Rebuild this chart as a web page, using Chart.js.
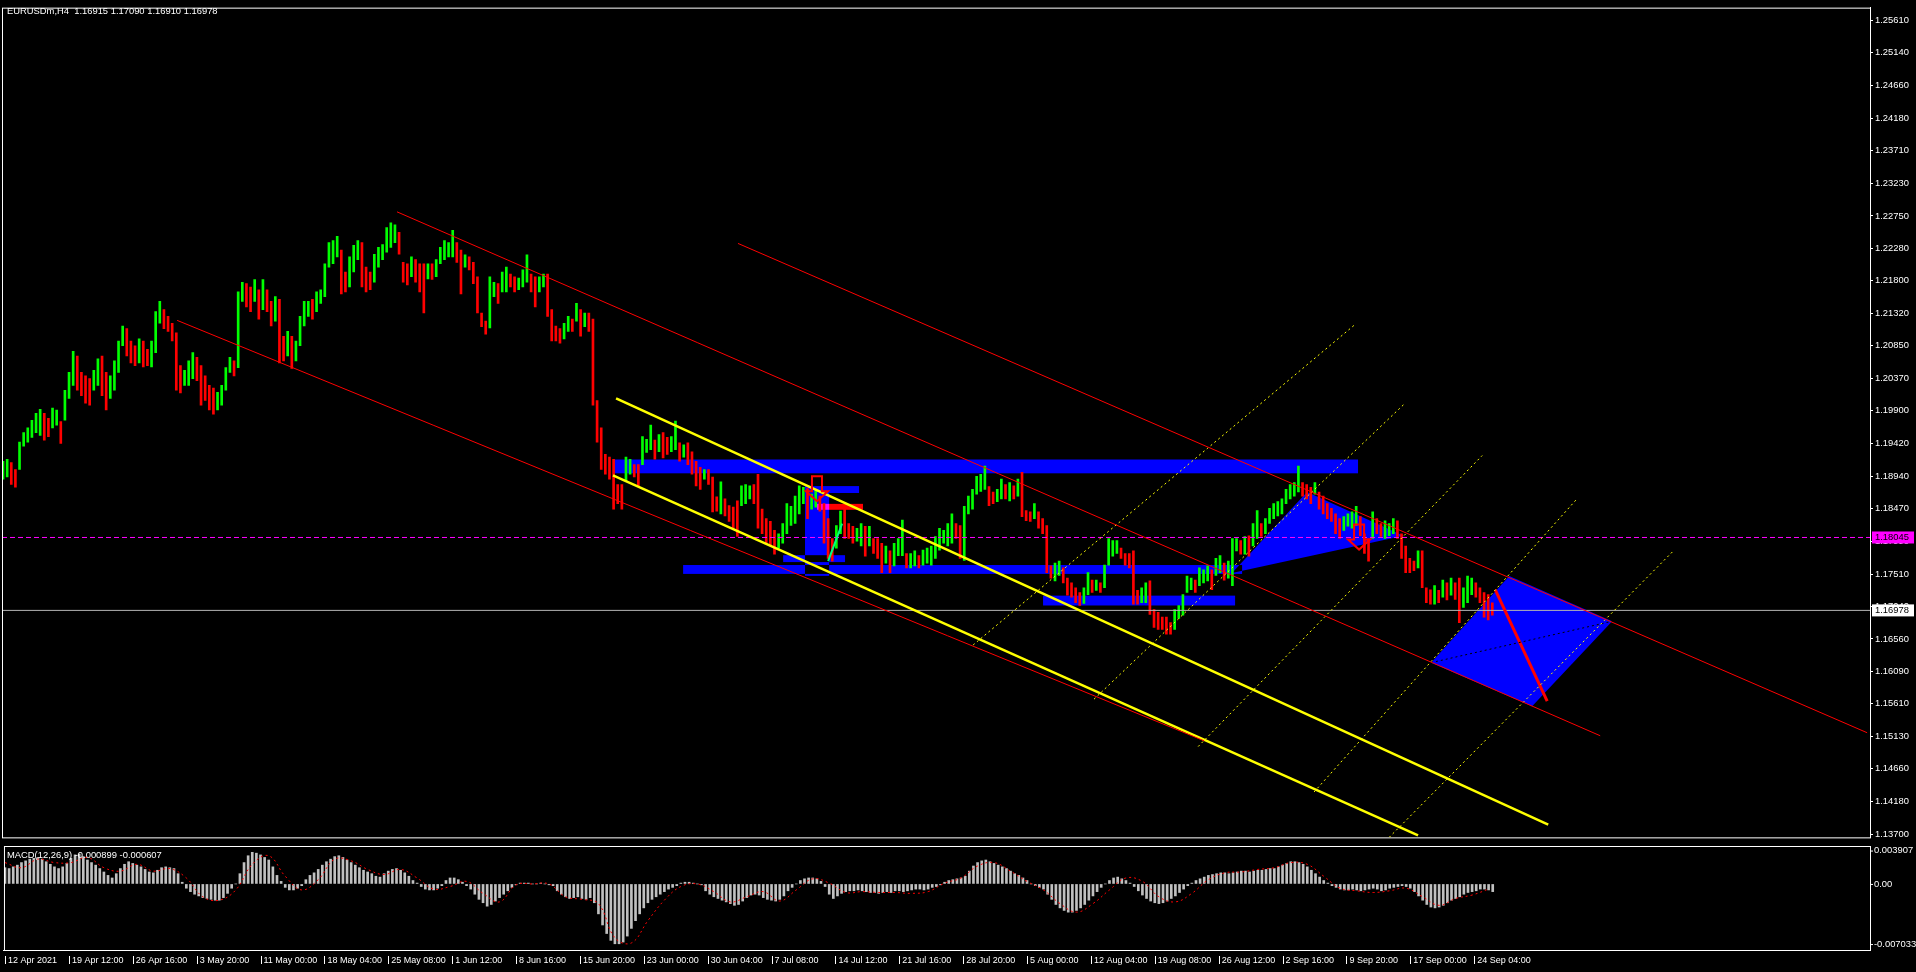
<!DOCTYPE html>
<html>
<head>
<meta charset="utf-8">
<title>EURUSDm,H4</title>
<script src="https://cdn.jsdelivr.net/npm/chart.js@4.4.0/dist/chart.umd.min.js"></script>
<style>
  html, body { margin: 0; padding: 0; background: #000; overflow: hidden; }
  #wrap { position: relative; width: 1916px; height: 972px; }
  canvas { position: absolute; left: 0; }
  #main { top: 0; }
  #macd { top: 845px; }
</style>
</head>
<body>
<div id="wrap">
  <canvas id="main" width="1916" height="845"></canvas>
  <canvas id="macd" width="1916" height="127"></canvas>
</div>
<script>
// textos del grafico
const symbolTitle = 'EURUSDm,H4  1.16915 1.17090 1.16910 1.16978';
const macdTitle = 'MACD(12,26,9) -0.000899 -0.000607';

// una muestra cada 2 velas H4, etiqueta de tiempo cada 31 velas
const barStep = 2;
const labelStep = 31;
const signalStep = 8;

const timeLabels = ['12 Apr 2021', '19 Apr 12:00', '26 Apr 16:00', '3 May 20:00', '11 May 00:00', '18 May 04:00',
  '25 May 08:00', '1 Jun 12:00', '8 Jun 16:00', '15 Jun 20:00', '23 Jun 00:00', '30 Jun 04:00', '7 Jul 08:00',
  '14 Jul 12:00', '21 Jul 16:00', '28 Jul 20:00', '5 Aug 00:00', '12 Aug 04:00', '19 Aug 08:00', '26 Aug 12:00',
  '2 Sep 16:00', '9 Sep 20:00', '17 Sep 00:00', '24 Sep 04:00'];

const priceTicks = [1.25610, 1.25140, 1.24660, 1.24180, 1.23710, 1.23230, 1.22750, 1.22280, 1.21800, 1.21320,
  1.20850, 1.20370, 1.19900, 1.19420, 1.18940, 1.18470, 1.17990, 1.17510, 1.17040, 1.16560, 1.16090, 1.15610,
  1.15130, 1.14660, 1.14180, 1.13700];
const macdTicks = [0.003907, 0, -0.007033];

const bidPrice = 1.16978;
const alertPrice = 1.18045;

// velas: maximos y minimos
const highs = [
  1.1916,1.1919,1.1914,1.1904,1.1944,1.1958,1.1965,1.1976,1.1986,1.1992,
  1.1986,1.1979,1.1994,1.1991,1.1974,1.2020,1.2046,1.2077,1.2070,1.2046,
  1.2041,1.2037,1.2049,1.2066,1.2070,1.2046,1.2041,1.2063,1.2092,1.2114,
  1.2110,1.2092,1.2085,1.2095,1.2092,1.2080,1.2092,1.2135,1.2150,1.2138,
  1.2128,1.2118,1.2104,1.2056,1.2049,1.2063,1.2075,1.2068,1.2056,1.2041,
  1.2027,1.2023,1.2017,1.2027,1.2053,1.2068,1.2063,1.2164,1.2178,1.2176,
  1.2171,1.2182,1.2167,1.2182,1.2167,1.2150,1.2157,1.2153,1.2099,1.2106,
  1.2099,1.2092,1.2128,1.2150,1.2150,1.2153,1.2164,1.2167,1.2205,1.2236,
  1.2239,1.2245,1.2225,1.2193,1.2215,1.2232,1.2239,1.2236,1.2200,1.2193,
  1.2219,1.2229,1.2233,1.2258,1.2265,1.2262,1.2251,1.2207,1.2205,1.2215,
  1.2211,1.2205,1.2205,1.2205,1.2205,1.2211,1.2229,1.2239,1.2236,1.2254,
  1.2236,1.2225,1.2218,1.2215,1.2207,1.2186,1.2133,1.2121,1.2186,1.2178,
  1.2176,1.2193,1.2200,1.2190,1.2186,1.2184,1.2196,1.2218,1.2190,1.2186,
  1.2186,1.2190,1.2190,1.2138,1.2114,1.2110,1.2118,1.2128,1.2124,1.2147,
  1.2138,1.2133,1.2133,1.2124,1.2005,1.1965,1.1926,1.1922,1.1919,1.1882,
  1.1882,1.1922,1.1919,1.1911,1.1911,1.1952,1.1948,1.1969,1.1947,1.1955,
  1.1958,1.1951,1.1952,1.1975,1.1943,1.1940,1.1943,1.1930,1.1916,1.1907,
  1.1904,1.1904,1.1893,1.1864,1.1886,1.1861,1.1851,1.1849,1.1858,1.1880,
  1.1882,1.1880,1.1882,1.1897,1.1846,1.1832,1.1828,1.1815,1.1810,1.1825,
  1.1854,1.1850,1.1865,1.1880,1.1878,1.1876,1.1868,1.1873,1.1865,1.1854,
  1.1832,1.1803,1.1822,1.1843,1.1846,1.1825,1.1821,1.1818,1.1825,1.1821,
  1.1821,1.1803,1.1803,1.1796,1.1792,1.1785,1.1796,1.1803,1.1830,1.1781,
  1.1781,1.1785,1.1778,1.1786,1.1789,1.1792,1.1806,1.1818,1.1815,1.1825,
  1.1839,1.1825,1.1822,1.1850,1.1865,1.1875,1.1894,1.1897,1.1909,1.1879,
  1.1871,1.1875,1.1890,1.1882,1.1885,1.1880,1.1890,1.1900,1.1844,1.1842,
  1.1854,1.1842,1.1832,1.1822,1.1763,1.1767,1.1770,1.1760,1.1745,1.1738,
  1.1731,1.1724,1.1731,1.1753,1.1742,1.1742,1.1738,1.1764,1.1803,1.1800,
  1.1800,1.1789,1.1781,1.1781,1.1785,1.1727,1.1731,1.1738,1.1741,1.1699,
  1.1695,1.1688,1.1688,1.1680,1.1699,1.1705,1.1721,1.1748,1.1745,1.1742,
  1.1760,1.1757,1.1763,1.1757,1.1774,1.1778,1.1767,1.1770,1.1803,1.1803,
  1.1800,1.1806,1.1807,1.1825,1.1844,1.1825,1.1832,1.1847,1.1854,1.1857,
  1.1861,1.1875,1.1882,1.1885,1.1909,1.1885,1.1882,1.1878,1.1885,1.1871,
  1.1865,1.1854,1.1847,1.1839,1.1832,1.1835,1.1839,1.1842,1.1850,1.1835,
  1.1810,1.1803,1.1842,1.1832,1.1825,1.1829,1.1825,1.1832,1.1829,1.1810,
  1.1792,1.1774,1.1770,1.1785,1.1785,1.1731,1.1728,1.1734,1.1727,1.1742,
  1.1738,1.1745,1.1738,1.1745,1.1731,1.1748,1.1745,1.1738,1.1731,1.1724,
  1.1721,1.1709];
const lows = [
  1.1890,1.1893,1.1882,1.1878,1.1904,1.1938,1.1944,1.1951,1.1958,1.1954,
  1.1947,1.1952,1.1965,1.1969,1.1942,1.1976,1.2008,1.2027,1.2020,1.2012,
  1.2001,1.1998,1.2020,1.2027,1.2012,1.1991,1.2008,1.2020,1.2046,1.2085,
  1.2070,1.2060,1.2056,1.2060,1.2054,1.2056,1.2054,1.2075,1.2118,1.2110,
  1.2106,1.2092,1.2020,1.2016,1.2027,1.2027,1.2037,1.2034,1.1998,1.2005,
  1.1991,1.1985,1.1991,1.1998,1.2020,1.2046,1.2041,1.2053,1.2150,1.2142,
  1.2135,1.2150,1.2124,1.2138,1.2135,1.2114,1.2121,1.2060,1.2063,1.2070,
  1.2052,1.2063,1.2085,1.2114,1.2128,1.2124,1.2135,1.2147,1.2157,1.2200,
  1.2205,1.2215,1.2161,1.2164,1.2171,1.2193,1.2211,1.2171,1.2164,1.2167,
  1.2178,1.2200,1.2211,1.2222,1.2229,1.2236,1.2219,1.2178,1.2174,1.2186,
  1.2178,1.2164,1.2133,1.2183,1.2182,1.2186,1.2205,1.2211,1.2215,1.2215,
  1.2207,1.2161,1.2200,1.2196,1.2176,1.2133,1.2113,1.2102,1.2111,1.2157,
  1.2147,1.2164,1.2164,1.2171,1.2164,1.2167,1.2171,1.2178,1.2164,1.2142,
  1.2164,1.2171,1.2128,1.2092,1.2092,1.2089,1.2095,1.2106,1.2106,1.2121,
  1.2099,1.2113,1.2106,1.1998,1.1944,1.1904,1.1897,1.1890,1.1846,1.1854,
  1.1846,1.1887,1.1897,1.1893,1.1879,1.1911,1.1929,1.1933,1.1919,1.1930,
  1.1921,1.1926,1.1930,1.1933,1.1916,1.1922,1.1911,1.1897,1.1880,1.1875,
  1.1890,1.1882,1.1842,1.1843,1.1839,1.1836,1.1828,1.1818,1.1806,1.1851,
  1.1854,1.1861,1.1854,1.1818,1.1810,1.1796,1.1792,1.1780,1.1789,1.1796,
  1.1810,1.1822,1.1825,1.1839,1.1854,1.1832,1.1846,1.1849,1.1843,1.1796,
  1.1774,1.1770,1.1789,1.1810,1.1803,1.1803,1.1796,1.1799,1.1792,1.1777,
  1.1792,1.1781,1.1774,1.1753,1.1767,1.1753,1.1763,1.1778,1.1778,1.1760,
  1.1760,1.1763,1.1760,1.1764,1.1767,1.1764,1.1774,1.1786,1.1796,1.1792,
  1.1796,1.1803,1.1774,1.1771,1.1839,1.1846,1.1868,1.1872,1.1875,1.1851,
  1.1854,1.1857,1.1861,1.1861,1.1858,1.1861,1.1865,1.1835,1.1829,1.1828,
  1.1832,1.1818,1.1810,1.1753,1.1745,1.1741,1.1749,1.1738,1.1720,1.1717,
  1.1709,1.1705,1.1708,1.1721,1.1724,1.1727,1.1724,1.1731,1.1764,1.1777,
  1.1781,1.1774,1.1764,1.1760,1.1707,1.1707,1.1709,1.1709,1.1692,1.1673,
  1.1670,1.1670,1.1663,1.1663,1.1670,1.1686,1.1691,1.1724,1.1728,1.1724,
  1.1734,1.1738,1.1741,1.1728,1.1749,1.1753,1.1742,1.1745,1.1734,1.1785,
  1.1780,1.1780,1.1777,1.1792,1.1803,1.1806,1.1810,1.1825,1.1832,1.1836,
  1.1839,1.1854,1.1861,1.1865,1.1871,1.1865,1.1861,1.1854,1.1868,1.1846,
  1.1839,1.1832,1.1828,1.1810,1.1803,1.1815,1.1821,1.1818,1.1822,1.1807,
  1.1781,1.1770,1.1803,1.1810,1.1806,1.1803,1.1807,1.1810,1.1803,1.1774,
  1.1753,1.1753,1.1756,1.1760,1.1731,1.1709,1.1707,1.1707,1.1709,1.1717,
  1.1713,1.1720,1.1714,1.1680,1.1702,1.1709,1.1721,1.1717,1.1709,1.1688,
  1.1684,1.1691];

// MACD: histograma (linea principal) y senal
const macdMain = [
  0.0019,0.0018,0.0020,0.0022,0.0025,0.0027,0.0029,0.0030,0.0031,0.0029,
  0.0026,0.0023,0.0020,0.0018,0.0020,0.0024,0.0030,0.0034,0.0035,0.0032,
  0.0028,0.0025,0.0022,0.0018,0.0014,0.0010,0.0007,0.0012,0.0018,0.0023,
  0.0026,0.0024,0.0022,0.0020,0.0017,0.0014,0.0013,0.0016,0.0019,0.0020,
  0.0019,0.0018,0.0012,0.0002,-0.0005,-0.0009,-0.0012,-0.0014,-0.0016,-0.0017,
  -0.0018,-0.0019,-0.0019,-0.0016,-0.0011,-0.0005,0.0000,0.0012,0.0025,0.0033,
  0.0037,0.0036,0.0034,0.0031,0.0028,0.0020,0.0010,0.0003,-0.0004,-0.0007,
  -0.0007,-0.0005,-0.0002,0.0005,0.0010,0.0013,0.0017,0.0022,0.0026,0.0029,
  0.0032,0.0033,0.0031,0.0028,0.0025,0.0022,0.0019,0.0016,0.0014,0.0012,
  0.0009,0.0008,0.0012,0.0015,0.0017,0.0018,0.0016,0.0013,0.0009,0.0004,
  0.0001,-0.0003,-0.0006,-0.0007,-0.0007,-0.0005,-0.0002,0.0004,0.0007,0.0007,
  0.0005,0.0002,-0.0002,-0.0006,-0.0012,-0.0018,-0.0022,-0.0026,-0.0024,-0.0020,
  -0.0016,-0.0012,-0.0008,-0.0004,-0.0001,0.0001,0.0001,0.0001,0.0000,0.0000,
  0.0001,0.0000,-0.0001,-0.0002,-0.0008,-0.0012,-0.0015,-0.0017,-0.0016,-0.0015,
  -0.0017,-0.0018,-0.0016,-0.0022,-0.0035,-0.0048,-0.0058,-0.0066,-0.0070,-0.0070,
  -0.0068,-0.0061,-0.0052,-0.0043,-0.0035,-0.0028,-0.0022,-0.0018,-0.0015,-0.0012,
  -0.0009,-0.0006,-0.0004,-0.0002,0.0001,0.0002,0.0002,0.0001,0.0000,-0.0001,
  -0.0008,-0.0012,-0.0015,-0.0017,-0.0019,-0.0021,-0.0023,-0.0025,-0.0024,-0.0020,
  -0.0016,-0.0013,-0.0012,-0.0013,-0.0016,-0.0018,-0.0019,-0.0020,-0.0018,-0.0014,
  -0.0008,-0.0004,0.0000,0.0004,0.0006,0.0007,0.0007,0.0006,0.0003,-0.0003,
  -0.0012,-0.0017,-0.0014,-0.0011,-0.0009,-0.0008,-0.0008,-0.0007,-0.0008,-0.0009,
  -0.0010,-0.0010,-0.0011,-0.0010,-0.0009,-0.0010,-0.0008,-0.0008,-0.0009,-0.0008,
  -0.0007,-0.0006,-0.0006,-0.0007,-0.0006,-0.0004,-0.0003,-0.0001,0.0002,0.0004,
  0.0005,0.0006,0.0007,0.0009,0.0015,0.0021,0.0025,0.0027,0.0028,0.0026,
  0.0024,0.0022,0.0020,0.0018,0.0015,0.0012,0.0010,0.0007,0.0004,0.0000,
  -0.0002,-0.0004,-0.0006,-0.0012,-0.0018,-0.0024,-0.0028,-0.0031,-0.0033,-0.0033,
  -0.0031,-0.0028,-0.0024,-0.0019,-0.0014,-0.0009,-0.0004,0.0000,0.0004,0.0007,
  0.0008,0.0006,0.0004,0.0001,-0.0003,-0.0008,-0.0013,-0.0017,-0.0020,-0.0022,
  -0.0023,-0.0022,-0.0020,-0.0017,-0.0014,-0.0010,-0.0006,-0.0002,0.0001,0.0004,
  0.0006,0.0008,0.0010,0.0011,0.0012,0.0013,0.0013,0.0012,0.0013,0.0014,
  0.0015,0.0015,0.0014,0.0015,0.0016,0.0016,0.0017,0.0018,0.0018,0.0020,
  0.0022,0.0024,0.0026,0.0026,0.0025,0.0023,0.0020,0.0016,0.0012,0.0008,
  0.0004,0.0001,-0.0002,-0.0004,-0.0006,-0.0007,-0.0007,-0.0006,-0.0007,-0.0008,
  -0.0007,-0.0006,-0.0005,-0.0006,-0.0008,-0.0007,-0.0005,-0.0004,-0.0003,-0.0002,
  -0.0003,-0.0005,-0.0009,-0.0014,-0.0019,-0.0024,-0.0027,-0.0028,-0.0027,-0.0025,
  -0.0022,-0.0019,-0.0017,-0.0015,-0.0012,-0.0010,-0.0009,-0.0008,-0.0006,-0.0006,
  -0.0007,-0.0009];
const macdSignal = [
  0.0025,0.0019,0.0029,0.0025,0.0025,0.0031,0.0019,0.0015,0.0023,0.0015,
  0.0018,0.0007,-0.0015,-0.0019,-0.0007,0.0023,0.0033,0.0009,-0.0007,0.0005,
  0.0029,0.0027,0.0017,0.0011,0.0017,0.0007,-0.0006,-0.0003,0.0003,-0.0011,
  -0.0021,-0.0001,0.0000,0.0000,-0.0015,-0.0018,-0.0023,-0.0063,-0.0069,-0.0043,
  -0.0019,-0.0003,0.0000,-0.0009,-0.0021,-0.0015,-0.0009,-0.0020,-0.0007,0.0006,
  0.0001,-0.0010,-0.0009,-0.0010,-0.0010,-0.0011,-0.0009,0.0001,0.0007,0.0021,
  0.0025,0.0015,0.0003,-0.0007,-0.0023,-0.0033,-0.0023,-0.0007,0.0007,0.0003,
  -0.0015,-0.0021,-0.0011,0.0005,0.0013,0.0014,0.0017,0.0019,0.0025,0.0023,
  0.0009,-0.0005,-0.0008,-0.0010,-0.0008,-0.0005,-0.0015,-0.0025,-0.0017,-0.0013,
  -0.0006];

// objetos dibujados: puntos [vela, precio]
const redLines = [
  [[84.4, 1.21222], [582.3, 1.15070]],
  [[191.0, 1.22810], [774.3, 1.15144]],
  [[356.3, 1.22348], [903.7, 1.15188]]];
const yellowLines = [
  [[297.2, 1.20082], [749.1, 1.13845]],
  [[295.7, 1.18955], [686.0, 1.13686]]];
const dottedLines = [
  [[470.3, 1.16472], [655.0, 1.21150]],
  [[528.9, 1.15679], [679.7, 1.20009]],
  [[579.4, 1.14986], [717.1, 1.19244]],
  [[635.6, 1.14321], [762.6, 1.18595]],
  [[672.0, 1.13657], [810.1, 1.17858]]];
const redStroke = [[723.4, 1.17281], [748.6, 1.15650]];
const greenStroke = [[400.0, 1.17700], [406.8, 1.18248]];
// rectangulos: [vela ini, vela fin, precio alto, precio bajo]
const blueBoxes = [
  [295.7, 656.9, 1.19186, 1.18984],
  [329.7, 600.7, 1.17642, 1.17512],
  [504.2, 597.3, 1.17194, 1.17050],
  [388.8, 400.5, 1.18696, 1.17483],
  [388.8, 415.0, 1.18797, 1.18696],
  [378.2, 408.2, 1.17786, 1.17685]];
const redBox = [394.6, 416.9, 1.18537, 1.18450];
const triangle = [[595.8, 1.17526], [632.2, 1.18710], [678.9, 1.18070]];
const diamond = [[730.2, 1.17483], [780.1, 1.16819], [741.3, 1.15577], [692.3, 1.16213]];
const downArrows = [[394.6, 1.18941], [657.4, 1.18234]];

const UP = '#00ff00';
const DOWN = '#ff0000';
const xMin = -0.5, xMax = 905.1;
const FAMILY = '"Liberation Sans", Arial, sans-serif';
const FONT = '9.4px ' + FAMILY;

Chart.defaults.font.family = FAMILY;
Chart.defaults.font.size = 9.4;

const candleColors = highs.map((h, k) => {
  if (k === 0) return UP;
  let mid = (h + lows[k]) / 2;
  let prev = (highs[k - 1] + lows[k - 1]) / 2;
  return mid >= prev ? UP : DOWN;
});

function segment(points, color, width, dash) {
  return {
    type: 'line',
    data: points.map(p => ({ x: p[0], y: p[1] })),
    borderColor: color, borderWidth: width, borderDash: dash || [],
    pointRadius: 0, fill: false, tension: 0, order: 1
  };
}

const lineSets = [];
redLines.forEach(l => lineSets.push(segment(l, '#ff0000', 1)));
yellowLines.forEach(l => lineSets.push(segment(l, '#ffff00', 2.5)));
dottedLines.forEach(l => lineSets.push(segment(l, '#ffff00', 1, [2, 3])));
lineSets.push(segment([diamond[3], diamond[1]], '#000000', 1, [2, 3]));
lineSets.push(segment(redStroke, '#ff0000', 3));
lineSets.push(segment(greenStroke, '#00ff7f', 2));
lineSets.push(segment([[xMin, alertPrice], [xMax, alertPrice]], '#ff00ff', 1, [5, 3]));
lineSets.push(segment([[xMin, bidPrice], [xMax, bidPrice]], '#b4b4b4', 1));

function px(chart, p) {
  return [chart.scales.x.getPixelForValue(p[0]), chart.scales.y.getPixelForValue(p[1])];
}

const mainDecor = {
  id: 'mainDecor',
  beforeDraw(chart) {
    const c = chart.ctx;
    c.save();
    c.fillStyle = '#000';
    c.fillRect(0, 0, chart.width, chart.height);
    c.restore();
  },
  beforeDatasetsDraw(chart) {
    // rectangulos y figuras de fondo, se mezclan como en MT4
    const c = chart.ctx, a = chart.chartArea;
    c.save();
    c.beginPath();
    c.rect(a.left, a.top, a.right - a.left, a.bottom - a.top);
    c.clip();
    c.globalCompositeOperation = 'difference';
    const box = (b, col) => {
      const p0 = px(chart, [b[0], b[2]]), p1 = px(chart, [b[1], b[3]]);
      c.fillStyle = col;
      c.fillRect(p0[0], p0[1], p1[0] - p0[0], p1[1] - p0[1]);
    };
    const poly = pts => {
      c.beginPath();
      pts.forEach((p, i) => {
        const q = px(chart, p);
        if (i) c.lineTo(q[0], q[1]); else c.moveTo(q[0], q[1]);
      });
      c.closePath();
      c.fillStyle = '#0000ff';
      c.fill();
    };
    blueBoxes.forEach(b => box(b, '#0000ff'));
    box(redBox, '#ff0000');
    poly(triangle);
    poly(diamond);
    c.restore();
  },
  afterDatasetsDraw(chart) {
    const c = chart.ctx;
    c.save();
    c.strokeStyle = '#ff0000';
    c.lineWidth = 2;
    downArrows.forEach(p => {
      const q = px(chart, p), cx = q[0], top = q[1];
      c.beginPath();
      c.moveTo(cx - 5, top);
      c.lineTo(cx + 5, top);
      c.lineTo(cx + 5, top + 15);
      c.lineTo(cx + 11, top + 15);
      c.lineTo(cx, top + 25);
      c.lineTo(cx - 11, top + 15);
      c.lineTo(cx - 5, top + 15);
      c.closePath();
      c.stroke();
    });
    c.restore();
  },
  afterDraw(chart) {
    const c = chart.ctx, a = chart.chartArea, ys = chart.scales.y;
    c.save();
    c.strokeStyle = '#fff';
    c.lineWidth = 1;
    c.strokeRect(a.left + 0.5, a.top + 0.5, a.right - a.left, a.bottom - a.top);
    c.font = FONT;
    c.textBaseline = 'middle';
    c.fillStyle = '#fff';
    c.fillText(symbolTitle, 7, 11);
    // etiquetas de precio en el eje
    const tag = (v, bg) => {
      const y = ys.getPixelForValue(v);
      c.fillStyle = bg;
      c.fillRect(a.right + 2, y - 6, 42, 12);
      c.fillStyle = '#000';
      c.fillText(v.toFixed(5), a.right + 5, y);
    };
    tag(alertPrice, '#ff00ff');
    tag(bidPrice, '#ffffff');
    c.restore();
  }
};

const mainChart = new Chart(document.getElementById('main'), {
  type: 'bar',
  data: {
    datasets: [{
      type: 'bar',
      data: highs.map((h, k) => ({ x: k * barStep, y: [lows[k], h] })),
      backgroundColor: candleColors,
      barThickness: 2,
      borderWidth: 0,
      order: 10
    }].concat(lineSets)
  },
  options: {
    responsive: false,
    animation: false,
    events: [],
    layout: { padding: { left: 2, top: 2, right: 0, bottom: 2 } },
    plugins: { legend: { display: false }, tooltip: { enabled: false } },
    scales: {
      x: { type: 'linear', min: xMin, max: xMax, display: false, offset: false },
      y: {
        position: 'right', min: 1.13657, max: 1.25798,
        afterFit: s => { s.width = 46; },
        afterBuildTicks: s => { s.ticks = priceTicks.map(v => ({ value: v })); },
        ticks: { color: '#fff', autoSkip: false, padding: 2, callback: v => v.toFixed(5) },
        grid: { drawOnChartArea: false, color: '#fff', tickLength: 3 },
        border: { color: '#fff', width: 1 }
      }
    }
  },
  plugins: [mainDecor]
});

const macdDecor = {
  id: 'macdDecor',
  beforeDraw(chart) {
    const c = chart.ctx;
    c.save();
    c.fillStyle = '#000';
    c.fillRect(0, 0, chart.width, chart.height);
    c.restore();
  },
  afterDraw(chart) {
    const c = chart.ctx, a = chart.chartArea, xs = chart.scales.x, ys = chart.scales.y;
    c.save();
    c.strokeStyle = '#fff';
    c.lineWidth = 1;
    c.strokeRect(a.left + 0.5, a.top + 0.5, a.right - a.left, a.bottom - a.top);
    c.font = FONT;
    c.textBaseline = 'middle';
    c.fillStyle = '#fff';
    c.fillText(macdTitle, 7, 10);
    macdTicks.forEach(v => {
      const y = ys.getPixelForValue(v);
      c.beginPath();
      c.moveTo(a.right, y + 0.5);
      c.lineTo(a.right + 3, y + 0.5);
      c.stroke();
      c.fillText(v === 0 ? '0.00' : v.toFixed(6), a.right + 4, y);
    });
    // marcas de tiempo junto a las etiquetas
    timeLabels.forEach((t, j) => {
      const x = Math.round(xs.getPixelForValue(j * labelStep)) + 0.5;
      c.beginPath();
      c.moveTo(x, a.bottom + 6);
      c.lineTo(x, a.bottom + 14);
      c.stroke();
    });
    c.restore();
  }
};

const macdChart = new Chart(document.getElementById('macd'), {
  type: 'bar',
  data: {
    datasets: [{
      type: 'bar',
      data: macdMain.map((v, k) => ({ x: k * barStep, y: v })),
      backgroundColor: '#c0c0c0',
      barThickness: 2,
      borderWidth: 0,
      order: 10
    }, {
      type: 'line',
      data: macdSignal.map((v, j) => ({ x: j * signalStep, y: v })),
      borderColor: '#ff0000', borderWidth: 1, borderDash: [2, 3],
      pointRadius: 0, fill: false, tension: 0.4, order: 1
    }]
  },
  options: {
    responsive: false,
    animation: false,
    events: [],
    layout: { padding: { left: 2, top: 1, right: 0, bottom: 0 } },
    plugins: { legend: { display: false }, tooltip: { enabled: false } },
    scales: {
      x: {
        type: 'linear', min: xMin, max: xMax, offset: false,
        afterFit: s => { s.height = 22; },
        afterBuildTicks: s => { s.ticks = timeLabels.map((t, j) => ({ value: j * labelStep })); },
        ticks: {
          color: '#fff', autoSkip: false, maxRotation: 0, minRotation: 0,
          align: 'start', labelOffset: 3, padding: 5, font: { size: 9 },
          callback: (v, i) => timeLabels[i]
        },
        grid: { drawOnChartArea: false, drawTicks: false },
        border: { color: '#fff', width: 1 }
      },
      y: {
        position: 'right', min: -0.007728, max: 0.004440,
        afterFit: s => { s.width = 46; },
        ticks: { display: false },
        grid: { drawOnChartArea: false, drawTicks: false },
        border: { color: '#fff', width: 1 }
      }
    }
  },
  plugins: [macdDecor]
});
</script>
</body>
</html>
